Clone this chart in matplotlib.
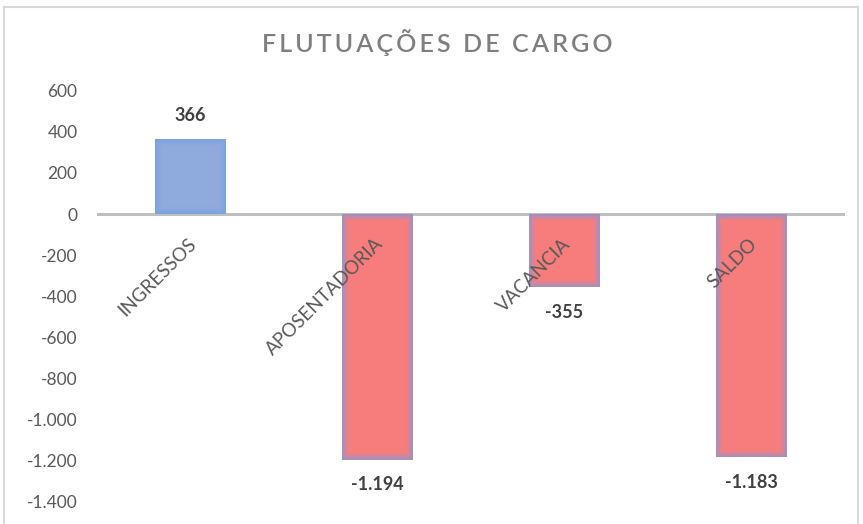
import matplotlib
matplotlib.use("Agg")
import matplotlib.pyplot as plt
import numpy as np
from matplotlib.colors import to_rgb
from matplotlib.ticker import FuncFormatter
from matplotlib.lines import Line2D

categories = ["INGRESSOS", "APOSENTADORIA", "VACANCIA", "SALDO"]
values = [366, -1194, -355, -1183]
value_labels = ["366", "-1.194", "-355", "-1.183"]
title = "FLUTUAÇÕES DE CARGO"

plt.rcParams['font.family'] = ['Lato', 'DejaVu Sans']

W, H = 863, 524
fig = plt.figure(figsize=(W / 100, H / 100), dpi=100)
ax = fig.add_axes([97 / W, (H - 502) / H, (845 - 97) / W, (502 - 90.7) / H])
ax.set_xlim(-0.5, 3.5)
ax.set_ylim(-1400, 600)

for s in ax.spines.values():
    s.set_visible(False)
ax.set_xticks([])
ax.set_yticks(np.arange(-1400, 601, 200))
ax.yaxis.set_major_formatter(FuncFormatter(lambda v, p: f"{int(v):,}".replace(",", ".")))
ax.tick_params(axis='y', length=0, pad=14, labelsize=12.5, labelcolor='#595959')

ax.axhline(0, color='#BFBFBF', lw=2.2, zorder=1)

# pixel -> data conversions
px_x = 4.0 / (845 - 97)
px_y = 2000.0 / (502 - 90.7)

bar_w = 0.38
steps = 10
for i, v in enumerate(values):
    if v >= 0:
        edge, fill = '#78A2E0', '#8FAADC'
    else:
        edge, fill = '#9C92C4', '#F77C7C'
    ce, cf = np.array(to_rgb(edge)), np.array(to_rgb(fill))
    sign = 1 if v >= 0 else -1
    for k in range(steps + 1):
        t = k / steps
        t = 1 - (1 - t) ** 1.4
        col = ce * (1 - t) + cf * t
        inset = k * 0.75
        w = bar_w - 2 * inset * px_x
        h = v - sign * 2 * inset * px_y
        b = sign * inset * px_y
        if abs(h) <= 0 or w <= 0:
            continue
        ax.bar(i, h, width=w, bottom=b, color=col, linewidth=0, zorder=2)

for i, (v, lab) in enumerate(zip(values, value_labels)):
    off = 23 if v >= 0 else -25
    ax.annotate(lab, (i, v), xytext=(0, off), textcoords='offset pixels',
                ha='center', va='center', fontsize=13, fontweight='bold',
                color='#404040', zorder=5)

for i, c in enumerate(categories):
    ax.annotate(c, (i, 0), xytext=(3, -27), textcoords='offset pixels',
                ha='right', va='center', rotation=45, rotation_mode='anchor',
                fontsize=13.5, color='#595959', zorder=5)

spaced = "\u2009".join(list(title)).replace("\u2009 \u2009", "\u2009\u2009\u2009\u2009")
fig.text(437 / W, 1 - 43 / H, spaced, ha='center', va='center', fontsize=18,
         color='#7F7F7F', fontweight='semibold')

# outer chart border
bc = '#D9D9D9'
fig.add_artist(Line2D([4 / W, 4 / W], [0, 1 - 7 / H], transform=fig.transFigure, color=bc, lw=1.5))
fig.add_artist(Line2D([4 / W, 858 / W], [1 - 7 / H, 1 - 7 / H], transform=fig.transFigure, color=bc, lw=1.5))
fig.add_artist(Line2D([858 / W, 858 / W], [0, 1 - 7 / H], transform=fig.transFigure, color=bc, lw=1.5))

fig.savefig("out.png", dpi=100, facecolor='white')
